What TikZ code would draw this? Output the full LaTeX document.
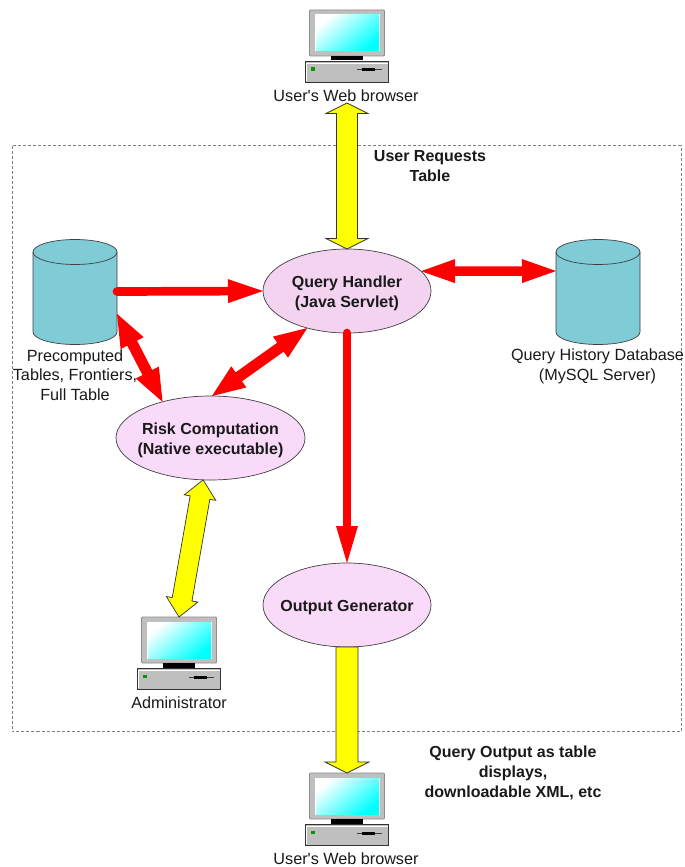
\documentclass[tikz,border=0pt]{standalone}
\usepackage{fontspec}
\setmainfont[Ligatures=TeXOff]{Liberation Sans}
\usetikzlibrary{calc,shapes.geometric}
\definecolor{dbfill}{HTML}{7FCBD6}
\definecolor{qhfill}{HTML}{F3D3F0}
\definecolor{elfill}{HTML}{F9DAF9}
\definecolor{arrowyellow}{HTML}{FFFF00}
\definecolor{arrowred}{HTML}{FF0000}
\definecolor{txt}{HTML}{1A1A1A}
\tikzset{
  proc/.style={ellipse,draw=black!75,line width=0.7pt,minimum width=168pt,minimum height=84pt,inner xsep=-30pt,inner ysep=0pt,outer sep=0pt,font=\fontsize{16}{20}\selectfont\bfseries,text=txt},
  lab/.style={align=center,inner sep=0pt,font=\fontsize{16.2}{19.7}\selectfont,text=txt},
  blab/.style={align=center,inner sep=0pt,font=\fontsize{16}{20}\selectfont\bfseries,text=txt},
  hold/.style={rectangle,inner sep=0pt,outer sep=0pt},
  ylw/.style={draw=black!80,line width=0.7pt,fill=arrowyellow,line join=miter},
  rdd/.style={fill=arrowred,draw=none},
  boundary/.style={draw=black!50,line width=0.7pt,dash pattern=on 3pt off 2pt},
}
% lowered centred lines for the ellipses
\newcommand\proctext[1]{\raisebox{-2pt}[\height][\depth]{\begin{tabular}{@{}c@{}}#1\end{tabular}}}
% double-headed arrow: style, end a, end b, half shaft, half head, head length
\newcommand\dblarrow[6]{%
  \coordinate (pA) at ($(#2)!#6pt!(#3)$);
  \coordinate (pB) at ($(#3)!#6pt!(#2)$);
  \path[#1] (#2) -- ($(pA)!#5pt!90:(#3)$) -- ($(pA)!#4pt!90:(#3)$)
    -- ($(pB)!#4pt!-90:(#2)$) -- ($(pB)!#5pt!-90:(#2)$) -- (#3)
    -- ($(pB)!#5pt!90:(#2)$) -- ($(pB)!#4pt!90:(#2)$)
    -- ($(pA)!#4pt!-90:(#3)$) -- ($(pA)!#5pt!-90:(#3)$) -- cycle;
}
% red one-way arrow with a round tail
\newcommand\redarrow[5]{%
  \coordinate (pB) at ($(#2)!#5pt!(#1)$);
  \draw[arrowred,line width=#3pt,line cap=round] (#1) -- (pB);
  \path[rdd] (#2) -- ($(pB)!#4pt!-90:(#1)$) -- ($(pB)!#4pt!90:(#1)$) -- cycle;
}
% computer icon: name, base centre x, top y
\newcommand\computer[3]{%
  \node[hold,minimum width=84pt,minimum height=72pt] (#1) at (#2,#3+36) {};
  \begin{scope}[shift={(#2,#3)}]
    \filldraw[draw=black!45,fill=black!25,line width=0.8pt,rounded corners=1pt] (-37.5,0) rectangle (37.5,46);
    \path[fill=white] (-32,4.5) rectangle (32.5,41.5);
    \shade[shading=axis,top color=white,middle color=cyan,bottom color=cyan,shading angle=40] (-31,5) rectangle (32,41);
    \fill[black] (-16,46) rectangle (15.5,50.5);
    \filldraw[draw=black!80,fill=black!25,line width=1pt] (-41.5,51.5) rectangle (41.5,72);
    \draw[white,line width=0.8pt] (-40.5,70.5) -- (-40.5,53) -- (40.5,53);
    \fill[green!60!black] (-36.5,57.5) rectangle (-32,61);
    \draw[black!75,line width=1pt] (10,60) -- (35,60);
    \draw[black,line width=3pt] (15,60) -- (28,60);
  \end{scope}
}
% database cylinder: name, centre x
\newcommand\database[2]{%
  \node[hold,minimum width=84pt,minimum height=105pt] (#1) at (#2,291.5) {};
  \begin{scope}[shift={(#2,0)}]
    \filldraw[draw=black!75,fill=dbfill,line width=0.7pt]
      (-42,252) -- (-42,332) arc[start angle=180,end angle=360,x radius=42,y radius=-12.5]
      -- (42,252) arc[start angle=0,end angle=180,x radius=42,y radius=-12.5] -- cycle;
    \draw[black!75,line width=0.7pt] (-42,252) arc[start angle=180,end angle=360,x radius=42,y radius=-12.5];
  \end{scope}
}
\begin{document}
\begin{tikzpicture}[x=1pt,y=-1pt]
\useasboundingbox (0,0) rectangle (685,867);
\fill[white] (0,0) rectangle (685,867);
\draw[boundary] (12,145.5) rectangle (681,731);

\database{dbleft}{75}
\database{dbright}{598}
\node[proc,fill=qhfill] (qh) at (347,291) {\proctext{Query Handler\\(Java Servlet)}};
\node[proc,fill=elfill,minimum width=189pt] (risk) at (210.5,438) {\proctext{Risk Computation\\(Native executable)}};
\node[proc,fill=elfill] (out) at (347,605) {\proctext{Output Generator}};

\computer{topc}{347}{10}
\computer{admin}{179}{617}
\computer{botc}{347}{773}

\node[lab] (toplab) at (346,96) {User's Web browser};
\node[lab] (botlab) at (346,859) {User's Web browser};
\node[lab] (adminlab) at (179,702.5) {Administrator};
\node[lab] (leftlab) at (75,375) {Precomputed\\Tables, Frontiers,\\Full Table};
\node[lab] (rightlab) at (597.5,366) {Query History Database\\(MySQL Server)};
\node[blab] (reqlab) at (430,166) {User Requests\\Table};
\node[blab] (outlab) at (513,773) {Query Output as table\\displays,\\downloadable XML, etc};

\coordinate (toptip) at (347,103);
\dblarrow{ylw}{toptip}{qh.north}{10.5}{21}{10.5}
\dblarrow{ylw}{risk.260}{admin.north}{10}{16}{18}
\dblarrow{rdd}{qh.15}{dbright.154}{4.7}{12}{34}
\dblarrow{rdd}{dbleft.-28.6}{risk.143}{5.5}{13}{33}
\dblarrow{rdd}{qh.223}{risk.88}{5.5}{13}{33}
\redarrow{dbleft.east}{qh.west}{8.7}{12}{35}
\redarrow{qh.south}{out.north}{8.7}{11}{37}
\path[ylw] (out.south) ++(-11,0) -- (336,762) -- (325,762) -- (botc.north) -- (369,762) -- (358,762) -- (358,647) -- cycle;
\end{tikzpicture}
\end{document}
